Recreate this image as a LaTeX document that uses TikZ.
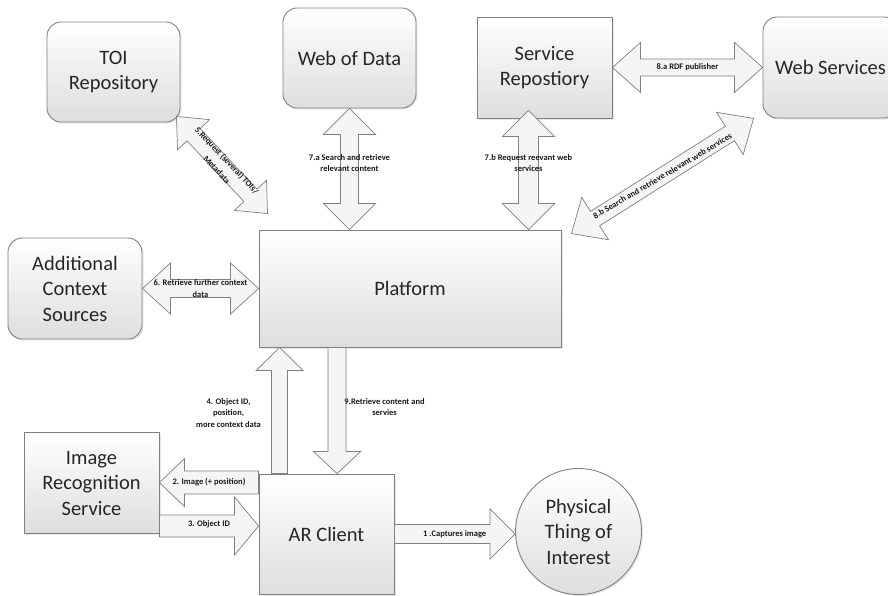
\documentclass[tikz,border=0pt]{standalone}
\usepackage{fontspec}
\setmainfont{Carlito}
\usetikzlibrary{calc,shadows}

% block arrow with a head at both ends: from, to, shaft half-width, head half-width, head length
\newcommand\dblarrow[5]{%
  \coordinate (ha) at ($(#1)!#5!(#2)$);
  \coordinate (hb) at ($(#2)!#5!(#1)$);
  \draw[arrowbody] (#1) -- ($(ha)!#4!90:(#2)$) -- ($(ha)!#3!90:(#2)$)
    -- ($(hb)!#3!90:(#2)$) -- ($(hb)!#4!90:(#2)$) -- (#2)
    -- ($(hb)!#4!-90:(#2)$) -- ($(hb)!#3!-90:(#2)$)
    -- ($(ha)!#3!-90:(#2)$) -- ($(ha)!#4!-90:(#2)$) -- cycle;
}
% block arrow with one head: tail, tip, shaft half-width, head half-width, head length
\newcommand\onearrow[5]{%
  \coordinate (hb) at ($(#2)!#5!(#1)$);
  \draw[arrowbody] ($(#1)!#3!90:(#2)$) -- ($(hb)!#3!90:(#2)$) -- ($(hb)!#4!90:(#2)$)
    -- (#2) -- ($(hb)!#4!-90:(#2)$) -- ($(hb)!#3!-90:(#2)$)
    -- ($(#1)!#3!-90:(#2)$) -- cycle;
}

\tikzset{
  box/.style={draw=black!50, line width=0.9pt, top color=white, bottom color=black!13,
    minimum width=135pt, minimum height=101pt, align=center, text=black!85,
    font=\fontsize{20.5}{25.5}\selectfont, inner sep=2pt,
    drop shadow={opacity=0.18, shadow xshift=1.5pt, shadow yshift=-1.5pt}},
  rbox/.style={box, rounded corners=14pt},
  arrowbody/.style={draw=black!50, line width=0.7pt, fill=black!4},
  lbl/.style={font=\bfseries\fontsize{8.5}{11.4}\selectfont, text=black!90, align=center, inner sep=0pt},
}

\begin{document}
\begin{tikzpicture}[x=1pt, y=-1pt]
\useasboundingbox (0,0) rectangle (888,595);

% components
\node[rbox, minimum width=133pt, minimum height=100pt] (toi) at (113.5,72) {TOI\\Repository};
\node[rbox, minimum width=133pt, minimum height=100pt] (wod) at (349.5,58) {Web of Data};
\node[box] (srep) at (544.5,67.5) {Service\\Repostiory};
\node[rbox] (wsvc) at (830.5,67.5) {Web Services};
\node[rbox, minimum width=134pt] (acs) at (75,288.5) {Additional\\Context\\Sources};
\node[box, minimum width=302pt, minimum height=117pt] (plat) at (410,288.5) {Platform};
\node[box] (irs) at (91.5,483) {Image\\Recognition\\Service};
\node[box, minimum width=135pt, minimum height=120pt] (arc) at (326.5,534) {AR Client};
\node[box, circle, minimum width=126pt, minimum height=126pt] (pti) at (578.5,531.5) {Physical\\Thing of\\Interest};

% connector end points
\coordinate (c5a) at ($(toi.south east)+(-4,-6)$);
\coordinate (c5b) at ($(plat.north west)+(9,-16)$);
\coordinate (c7a1) at (wod.south);
\coordinate (c7a2) at (wod.south |- plat.north);
\coordinate (c7b1) at ($(srep.south)+(-16,-8)$);
\coordinate (c7b2) at (c7b1 |- plat.north);
\coordinate (c8a1) at (srep.east);
\coordinate (c8a2) at (wsvc.west);
\coordinate (c8b1) at ($(plat.north east)+(10,4)$);
\coordinate (c8b2) at ($(wsvc.south west)+(-9,0)$);
\coordinate (c6a) at (acs.east);
\coordinate (c6b) at (acs.east -| plat.west);
\coordinate (c4a) at ($(arc.north west)+(21,0)$);
\coordinate (c4b) at (c4a |- plat.south);
\coordinate (c9a) at ($(plat.south west)+(78.5,0)$);
\coordinate (c9b) at (c9a |- arc.north);
\coordinate (c2a) at ($(arc.north west)+(0,9)$);
\coordinate (c2b) at (c2a -| irs.east);
\coordinate (c3a) at ($(irs.east)+(0,43)$);
\coordinate (c3b) at (c3a -| arc.west);
\coordinate (c1a) at (arc.east);
\coordinate (c1b) at (c1a -| pti.west);

% block arrows
\dblarrow{c5a}{c5b}{9pt}{22pt}{25pt}
\dblarrow{c7a1}{c7a2}{9pt}{26pt}{26pt}
\dblarrow{c7b1}{c7b2}{10pt}{26pt}{26pt}
\dblarrow{c8a1}{c8a2}{8.5pt}{25pt}{28pt}
\dblarrow{c8b1}{c8b2}{8.5pt}{25pt}{28pt}
\dblarrow{c6a}{c6b}{9pt}{25.5pt}{28pt}
\onearrow{c4a}{c4b}{8pt}{23.5pt}{23pt}
\onearrow{c9a}{c9b}{9pt}{23.5pt}{22pt}
\onearrow{c2a}{c2b}{11.5pt}{24pt}{25pt}
\onearrow{c3a}{c3b}{11pt}{29pt}{24pt}
\onearrow{c1a}{c1b}{9.5pt}{25pt}{25pt}

% arrow labels
\node[lbl, rotate=-46.8, font=\bfseries\fontsize{8.5}{13.5}\selectfont] at ($(c5a)!0.5!(c5b)$) {5.Request (several) TOIs/\\Metadata};
\node[lbl] at ($(c7a1)!0.45!(c7a2)$) {7.a Search and retrieve\\relevant content};
\node[lbl] at ($(c7b1)!0.44!(c7b2)$) {7.b Request reevant web\\services};
\node[lbl] at ($(c8a1)!0.5!(c8a2)$) {8.a RDF publisher};
\node[lbl, rotate=30.5] at ($(c8b1)!0.5!(c8b2)$) {8.b Search and retrieve relevant web services};
\node[lbl] at ($(c6a)!0.5!(c6b)$) {6. Retrieve further context\\data};
\node[lbl] at ($($(c4a)!0.5!(c4b)$)+(-51,2.5)$) {4. Object ID,\\position,\\more context data};
\node[lbl] at ($($(c9a)!0.5!(c9b)$)+(47.5,-3.5)$) {9.Retrieve content and\\servies};
\node[lbl] at ($(c2a)!0.5!(c2b)$) {2. Image (+ position)};
\node[lbl] at ($($(c3a)!0.5!(c3b)$)+(0,-2)$) {3. Object ID};
\node[lbl] at ($(c1a)!0.5!(c1b)$) {1 .Captures image};
\end{tikzpicture}
\end{document}
